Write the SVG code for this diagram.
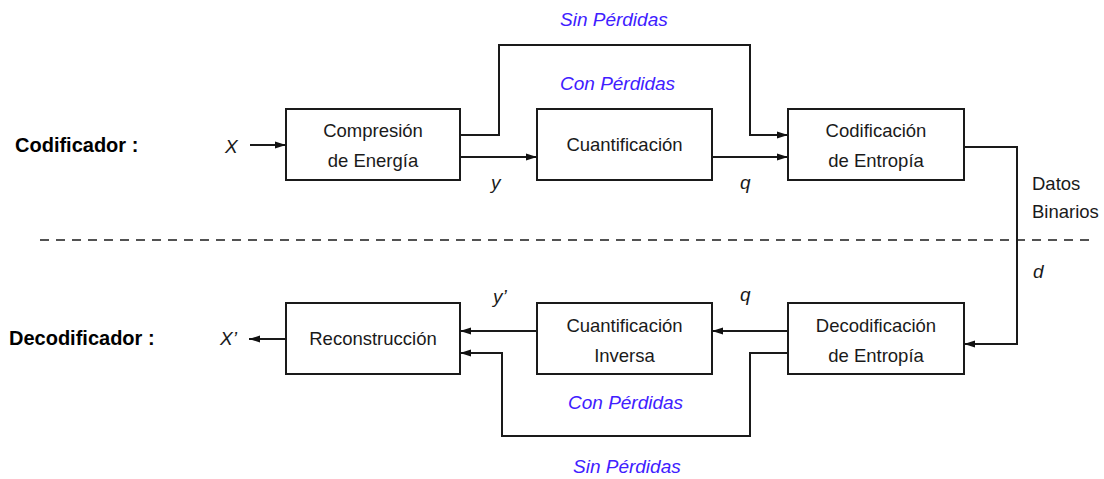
<svg xmlns="http://www.w3.org/2000/svg" width="1104" height="479" viewBox="0 0 1104 479">
<style>
.box{fill:#fff;stroke:#1a1a1a;stroke-width:2}
.t{font-family:"Liberation Sans",Arial,sans-serif;font-size:18.5px;fill:#1a1a1a;text-anchor:middle}
.lbl{font-family:"Liberation Sans",Arial,sans-serif;font-size:19px;font-style:italic;fill:#1a1a1a}
.blue{font-family:"Liberation Sans",Arial,sans-serif;font-size:19px;font-style:italic;fill:#4020ff}
.side{font-family:"Liberation Sans",Arial,sans-serif;font-size:20px;font-weight:bold;fill:#000}
.c{fill:none;stroke:#1a1a1a;stroke-width:2;marker-end:url(#ah)}
.dash{fill:none;stroke:#1a1a1a;stroke-width:1.5;stroke-dasharray:9 7}
</style>
<defs>
<marker id="ah" markerUnits="userSpaceOnUse" markerWidth="11" markerHeight="8" refX="11" refY="4" orient="auto">
<path d="M0,0.5 L11,4 L0,7.5 z" fill="#111"/>
</marker>
</defs>
<rect width="1104" height="479" fill="#fff"/>

<line class="dash" x1="40" y1="240" x2="1092" y2="240"/>

<text class="side" x="15" y="152">Codificador :</text>
<text class="side" x="9" y="345">Decodificador :</text>

<g id="compresion">
<rect class="box" x="286" y="109" width="174" height="71"/>
<text class="t" x="373" y="137">Compresión</text>
<text class="t" x="373" y="167">de Energía</text>
</g>
<g id="cuantificacion">
<rect class="box" x="537" y="109" width="175" height="71"/>
<text class="t" x="624.5" y="151">Cuantificación</text>
</g>
<g id="codificacion">
<rect class="box" x="788" y="109" width="176" height="71"/>
<text class="t" x="876" y="137">Codificación</text>
<text class="t" x="876" y="167">de Entropía</text>
</g>
<g id="reconstruccion">
<rect class="box" x="286" y="303" width="174" height="71"/>
<text class="t" x="373" y="345">Reconstrucción</text>
</g>
<g id="cuantificacion-inversa">
<rect class="box" x="537" y="303" width="175" height="71"/>
<text class="t" x="624.5" y="332">Cuantificación</text>
<text class="t" x="624.5" y="362">Inversa</text>
</g>
<g id="decodificacion">
<rect class="box" x="788" y="303" width="176" height="71"/>
<text class="t" x="876" y="332">Decodificación</text>
<text class="t" x="876" y="362">de Entropía</text>
</g>

<g id="connectors">
<path class="c" d="M250,145 H286"/>
<path class="c" d="M460,135 H499 V45 H750 V135 H788"/>
<path class="c" d="M460,157 H537"/>
<path class="c" d="M712,157 H788"/>
<path class="c" d="M964,147 H1017 V344 H964"/>
<path class="c" d="M788,331 H712"/>
<path class="c" d="M537,331 H460"/>
<path class="c" d="M788,353 H750 V436 H502 V353 H460"/>
<path class="c" d="M286,339 H249"/>
</g>

<g id="labels">
<text class="lbl" x="225" y="153">X</text>
<text class="lbl" x="220" y="345">X’</text>
<text class="lbl" x="491" y="189">y</text>
<text class="lbl" x="740" y="189">q</text>
<text class="lbl" x="493" y="303">y’</text>
<text class="lbl" x="740" y="301">q</text>
<text class="lbl" x="1033" y="278">d</text>
<text class="t" x="1032" y="190" style="text-anchor:start">Datos</text>
<text class="t" x="1032" y="218" style="text-anchor:start">Binarios</text>
<text class="blue" x="560" y="26">Sin Pérdidas</text>
<text class="blue" x="560" y="90">Con Pérdidas</text>
<text class="blue" x="568" y="409">Con Pérdidas</text>
<text class="blue" x="573" y="473">Sin Pérdidas</text>
</g>
</svg>
